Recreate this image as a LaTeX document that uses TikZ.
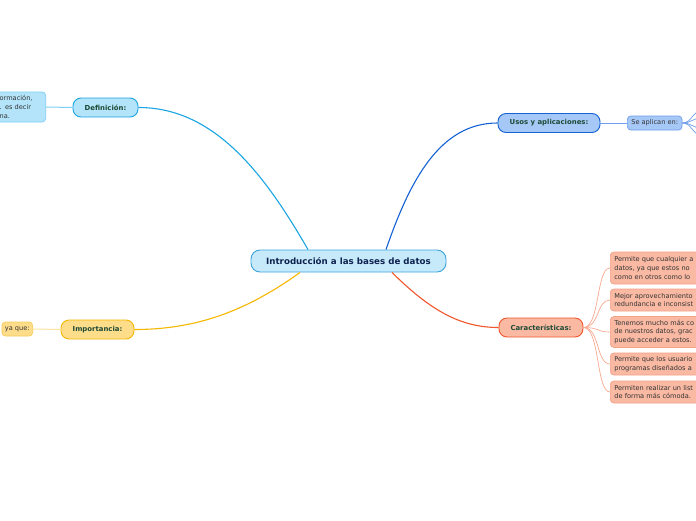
\documentclass[tikz,border=0pt]{standalone}
\usepackage{fontspec}
\setmainfont{DejaVu Sans}
\usetikzlibrary{calc}
\definecolor{cfill}{HTML}{C7EAFB}\definecolor{cbord}{HTML}{3CA4DC}\definecolor{ctext}{HTML}{0F2350}
\definecolor{dfill}{HTML}{B3E4FA}\definecolor{dbord}{HTML}{1AA5E3}\definecolor{dlite}{HTML}{7DCFF3}
\definecolor{ufill}{HTML}{A6C8F7}\definecolor{ubord}{HTML}{1462D4}\definecolor{ulite}{HTML}{6E9EEB}
\definecolor{ifill}{HTML}{FDDC8A}\definecolor{ibord}{HTML}{F6B700}\definecolor{ilite}{HTML}{F8CC5A}\definecolor{iline}{HTML}{FCE3A0}
\definecolor{kfill}{HTML}{F9B9A3}\definecolor{kbord}{HTML}{F0562C}\definecolor{klite}{HTML}{F6A087}\definecolor{kline}{HTML}{F9A98F}
\definecolor{ltext}{HTML}{1D4A36}\definecolor{btext}{HTML}{333333}
\tikzset{
  mainbox/.style={draw=#1, line width=0.9pt, rounded corners=8pt, minimum height=19pt, inner xsep=11pt, inner ysep=3pt, font=\fontsize{6.9}{8}\selectfont\bfseries, text=ltext},
  subbox/.style={draw=#1, line width=0.7pt, rounded corners=3.5pt, inner xsep=4pt, inner ysep=3.5pt, font=\fontsize{6.6}{8.6}\selectfont, text=btext, align=left},
  conn/.style={draw=#1, line width=1.1pt},
  thin/.style={draw=#1, line width=0.7pt}
}
\begin{document}
\begin{tikzpicture}[x=1pt,y=-1pt]
\useasboundingbox (0,0) rectangle (696,520);
\clip (0,0) rectangle (696,520);
\fill[white] (0,0) rectangle (696,520);
% central
\node[draw=cbord, fill=cfill, line width=0.9pt, rounded corners=9pt, minimum width=195pt, minimum height=22pt, font=\fontsize{8.7}{10}\selectfont\bfseries, text=ctext] (c) at (348.5,261) {Introducción a las bases de datos};
% main topics
\node[mainbox=dbord, fill=dfill, minimum width=65pt] (def) at (105.5,107.5) {Definición:};
\node[mainbox=ubord, fill=ufill, minimum width=102pt] (uso) at (549,123) {Usos y aplicaciones:};
\node[mainbox=ibord, fill=ifill, minimum width=73pt] (imp) at (97.5,329.5) {Importancia:};
\node[mainbox=kbord, fill=kfill, minimum width=84pt] (car) at (541,327.5) {Características:};
% sub nodes
\node[subbox=dlite, fill=dfill, text width=42pt, minimum height=30pt, anchor=east] (defa) at (46,107) {ormación,\\. es decir\\na.};
\node[subbox=ulite, fill=ufill, minimum height=14pt, inner ysep=2pt, anchor=west] (apl) at (627,123) {Se aplican en:};
\node[subbox=ilite, fill=ifill, minimum height=14pt, inner ysep=2pt, inner xsep=3pt, anchor=east] (yaq) at (33,329) {ya que:};
\node[subbox=klite, fill=kfill, text width=100pt, minimum height=32pt, anchor=west] (k1) at (610,268) {Permite que cualquier a\\datos, ya que estos no\\como en otros como lo};
\node[subbox=klite, fill=kfill, text width=100pt, minimum height=22pt, anchor=west] (k2) at (610,300) {Mejor aprovechamiento\\redundancia e inconsist};
\node[subbox=klite, fill=kfill, text width=100pt, minimum height=30pt, anchor=west] (k3) at (610,332) {Tenemos mucho más co\\de nuestros datos, grac\\puede acceder a estos.};
\node[subbox=klite, fill=kfill, text width=100pt, minimum height=22pt, anchor=west] (k4) at (610,364) {Permite que los usuario\\programas diseñados a};
\node[subbox=klite, fill=kfill, text width=100pt, minimum height=22pt, anchor=west] (k5) at (610,392) {Permiten realizar un list\\de forma más cómoda.};
% central connectors
\draw[conn=dbord] ($(c.north)+(-40.5,0)$) .. controls (265,175) and (215,107.5) .. (def.east);
\draw[conn=ubord] ($(c.north)+(37.5,0)$) .. controls (410,180) and (440,123) .. (uso.west);
\draw[conn=ibord] ($(c.south)+(-48.5,0)$) .. controls (245,312) and (195,329.5) .. (imp.east);
\draw[conn=kbord] ($(c.south)+(43.5,0)$) .. controls (430,310) and (460,327.5) .. (car.west);
% sub connectors
\draw[thin=dlite, line width=1pt] (def.west) -- (defa.east);
\draw[thin=ulite, line width=1pt] (uso.east) -- (apl.west);
\draw[thin=iline, line width=1pt] (imp.west) -- (yaq.east);
\foreach \k in {k1,k2,k3,k4,k5}{
  \draw[thin=kline] (car.east) .. controls (600,327.5) and (596,0|-\k.west) .. (\k.west);
}
% fork beyond "Se aplican en:"
\coordinate (f1) at (702,111);
\coordinate (f2) at (702,118);
\coordinate (f3) at (702,128);
\coordinate (f4) at (702,135);
\foreach \f in {f1,f2,f3,f4}{
  \draw[thin=ulite] (apl.east) .. controls (692,123) and (692,0|-\f) .. (\f);
}
\end{tikzpicture}
\end{document}
